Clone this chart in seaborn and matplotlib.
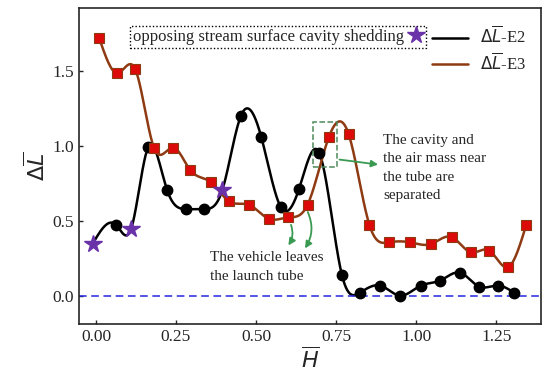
import numpy as np
import pandas as pd
import seaborn as sns
import matplotlib.pyplot as plt
from matplotlib.lines import Line2D
from matplotlib.patches import Rectangle

# values
e2_x = [-0.01, 0.0625, 0.11, 0.163, 0.222, 0.28, 0.338, 0.395, 0.453, 0.516, 0.578, 0.634,
        0.698, 0.768, 0.825, 0.8875, 0.95, 1.015, 1.075, 1.1375, 1.197, 1.256, 1.306]
e2_y = [0.347, 0.473, 0.447, 0.99, 0.707, 0.578, 0.578, 0.707, 1.202, 1.062, 0.589, 0.711,
        0.951, 0.14, 0.02, 0.067, 0.0, 0.067, 0.10, 0.153, 0.06, 0.067, 0.02]
shed_idx = [0, 2, 7]  # E2 points marked as cavity shedding

e3_x = [0.0104, 0.067, 0.123, 0.181, 0.2417, 0.294, 0.359, 0.416, 0.478, 0.54, 0.599, 0.661,
        0.728, 0.789, 0.854, 0.914, 0.981, 1.047, 1.111, 1.171, 1.229, 1.288, 1.344]
e3_y = [1.718, 1.485, 1.511, 0.989, 0.989, 0.84, 0.758, 0.629, 0.607, 0.513, 0.522, 0.607,
        1.062, 1.08, 0.473, 0.356, 0.356, 0.345, 0.391, 0.289, 0.30, 0.191, 0.473]

xticks = [0.00, 0.25, 0.50, 0.75, 1.00, 1.25]
yticks = [0.0, 0.5, 1.0, 1.5]


def spline(x, y, n=40):
    # natural cubic spline through the points, only used to draw the smooth line
    x = np.asarray(x, float)
    y = np.asarray(y, float)
    k = len(x)
    h = np.diff(x)
    A = np.zeros((k, k))
    b = np.zeros(k)
    A[0, 0] = A[-1, -1] = 1
    for i in range(1, k - 1):
        A[i, i - 1] = h[i - 1]
        A[i, i] = 2 * (h[i - 1] + h[i])
        A[i, i + 1] = h[i]
        b[i] = 6 * ((y[i + 1] - y[i]) / h[i] - (y[i] - y[i - 1]) / h[i - 1])
    m = np.linalg.solve(A, b)
    xs, ys = [], []
    for i in range(k - 1):
        t = np.linspace(x[i], x[i + 1], n, endpoint=False)
        a = x[i + 1] - t
        c = t - x[i]
        s = (m[i] * a**3 + m[i + 1] * c**3) / (6 * h[i]) \
            + (y[i] / h[i] - m[i] * h[i] / 6) * a + (y[i + 1] / h[i] - m[i + 1] * h[i] / 6) * c
        xs.append(t)
        ys.append(s)
    xs.append([x[-1]])
    ys.append([y[-1]])
    return np.concatenate(xs), np.concatenate(ys)


sns.set_style('ticks')
plt.rcParams['font.family'] = ['Liberation Serif', 'DejaVu Sans']
plt.rcParams['mathtext.fontset'] = 'dejavusans'

fig = plt.figure(figsize=(5.5, 3.89), dpi=100)
ax = fig.add_axes([0.1436, 0.167, 0.84, 0.812])

e3_col = '#8e3a12'
sx, sy = spline(e2_x, e2_y)
sns.lineplot(x=sx, y=sy, sort=False, color='black', lw=1.8, ax=ax, label=r'$\Delta\overline{L}$-E2')
sx, sy = spline(e3_x, e3_y)
sns.lineplot(x=sx, y=sy, sort=False, color=e3_col, lw=1.8, ax=ax, label=r'$\Delta\overline{L}$-E3')

e2 = pd.DataFrame({'x': e2_x, 'y': e2_y})
circ = e2.drop(index=shed_idx)
shed = e2.loc[shed_idx]
ax.plot(circ['x'], circ['y'], 'o', color='black', ms=7.5, zorder=3)
ax.plot(e3_x, e3_y, 's', mfc='#dd0a0a', mec=e3_col, mew=0.8, ms=7.5, zorder=4)
ax.plot(shed['x'], shed['y'], '*', color='#6a32a8', ms=13, zorder=5)

ax.axhline(0, color='#2626e0', ls='--', lw=1.1, dashes=(5, 3))

leg = ax.legend(loc='upper right', frameon=False, fontsize=12, handlelength=2.2,
                bbox_to_anchor=(1.0, 0.99), labelspacing=0.3, handletextpad=0.7)
ax.add_artist(leg)
star = Line2D([], [], marker='*', ls='none', color='#6a32a8', ms=13)
leg2 = ax.legend([star], ['opposing stream surface cavity shedding'], loc='upper left',
                 bbox_to_anchor=(0.11, 0.945), markerfirst=False, fancybox=False,
                 fontsize=12, handlelength=0.8, handletextpad=0.3, borderpad=0.2,
                 borderaxespad=0, edgecolor='black', framealpha=1)
leg2.get_frame().set_linestyle((0, (1, 1.5)))
leg2.get_frame().set_linewidth(1.0)

ax.add_patch(Rectangle((0.679, 0.862), 0.073, 0.30, fill=False, ls='--',
                       edgecolor='#4e8a5c', lw=1.1, zorder=6))

green = '#3b9a52'
ax.annotate('', xy=(0.89, 0.873), xytext=(0.752, 0.911),
            arrowprops=dict(arrowstyle='-|>', color=green, lw=1.3))
ax.annotate('', xy=(0.596, 0.32), xytext=(0.606, 0.49),
            arrowprops=dict(arrowstyle='-|>', color=green, lw=1.3,
                            connectionstyle='arc3,rad=-0.3'))
ax.annotate('', xy=(0.648, 0.30), xytext=(0.658, 0.575),
            arrowprops=dict(arrowstyle='-|>', color=green, lw=1.3,
                            connectionstyle='arc3,rad=-0.3'))

ax.text(0.897, 1.08, 'The cavity and\nthe air mass near\nthe tube are\nseparated',
        fontsize=11, va='top', ha='left', linespacing=1.55)
ax.text(0.356, 0.295, 'The vehicle leaves\nthe launch tube',
        fontsize=11, va='top', ha='left', linespacing=1.55)

ax.set_xlim(-0.053, 1.39)
ax.set_ylim(-0.19, 1.92)
ax.set_xticks(xticks)
ax.set_yticks(yticks)
ax.tick_params(direction='in', length=3, width=1, labelsize=12.5)
for s in ax.spines.values():
    s.set_linewidth(1.2)
ax.set_xlabel(r'$\overline{H}$', fontsize=16, labelpad=2)
ax.set_ylabel(r'$\Delta\overline{L}$', fontsize=16, labelpad=2)

fig.savefig('out.png', dpi=100)
